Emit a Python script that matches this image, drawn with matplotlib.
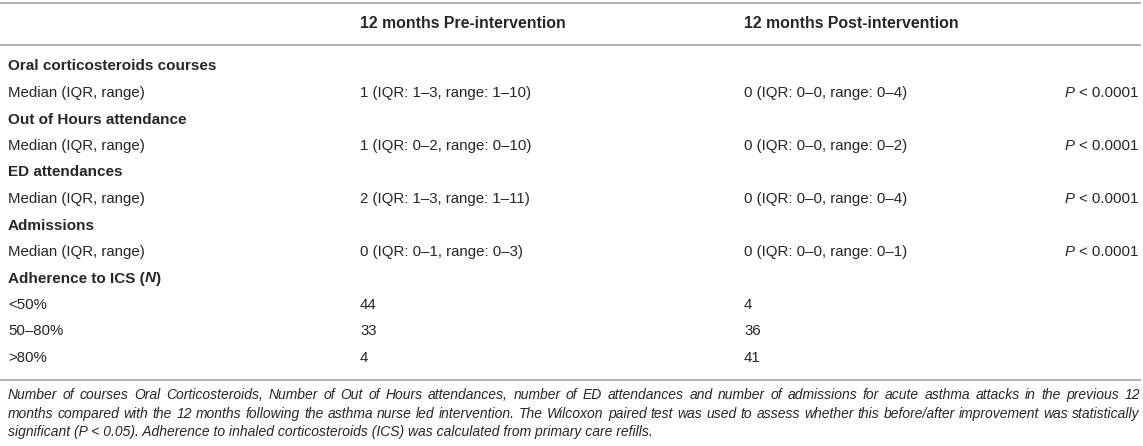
import matplotlib
matplotlib.use("Agg")
import matplotlib.pyplot as plt

plt.rcParams['font.family'] = ['Liberation Sans', 'DejaVu Sans']

W, H = 1143, 446
FS = 10.8
FS_HEAD = 11.4
FS_SEC = 11.0
TXT = '#262626'
RULE = '#b4b4b4'

col_headers = ["12 months Pre-intervention", "12 months Post-intervention"]

sections = ["Oral corticosteroids courses", "Out of Hours attendance",
            "ED attendances", "Admissions"]
pre_vals = ["1 (IQR: 1\u20133, range: 1\u201310)", "1 (IQR: 0\u20132, range: 0\u201310)",
            "2 (IQR: 1\u20133, range: 1\u201311)", "0 (IQR: 0\u20131, range: 0\u20133)"]
post_vals = ["0 (IQR: 0\u20130, range: 0\u20134)", "0 (IQR: 0\u20130, range: 0\u20132)",
             "0 (IQR: 0\u20130, range: 0\u20134)", "0 (IQR: 0\u20130, range: 0\u20131)"]
p_vals = ["< 0.0001", "< 0.0001", "< 0.0001", "< 0.0001"]

adh_labels = ["<50%", "50\u201380%", ">80%"]
adh_pre = [44, 33, 4]
adh_post = [4, 36, 41]

caption = [
    "Number of courses Oral Corticosteroids, Number of Out of Hours attendances, number of ED attendances and number of admissions for acute asthma attacks in the previous 12",
    "months compared with the 12 months following the asthma nurse led intervention. The Wilcoxon paired test was used to assess whether this before/after improvement was statistically",
    "significant (P < 0.05). Adherence to inhaled corticosteroids (ICS) was calculated from primary care refills.",
]

fig = plt.figure(figsize=(W / 100, H / 100), dpi=100)
ax = fig.add_axes([0, 0, 1, 1])
ax.set_xlim(0, W)
ax.set_ylim(H, 0)
ax.axis('off')
renderer = fig.canvas.get_renderer()


def width(s, fs=FS, **kw):
    t = ax.text(0, 0, s, fontsize=fs, **kw)
    w = t.get_window_extent(renderer).width
    t.remove()
    return w


def txt(x, y, s, fs=FS, **kw):
    # y is the visual middle of capitals; place on the baseline below it
    return ax.text(x, y + 0.36 * fs * 100 / 72, s, fontsize=fs, color=TXT,
                   va='baseline', **kw)


def put(x, y, parts, fs=FS):
    # draw text pieces one after the other, each with its own style
    for s, style, weight in parts:
        txt(x, y, s, fs, style=style, weight=weight)
        x += width(s, fs, style=style, weight=weight)


x_lab, x_pre, x_post, x_p = 8, 360, 744, 1138
y_head = 22
y0, dy = 65, 26.5

# rules
ax.hlines([3, 45, 380], 0, 1141, color=RULE, lw=1.5)

txt(x_pre, y_head, col_headers[0], FS_HEAD, weight='bold')
txt(x_post, y_head, col_headers[1], FS_HEAD, weight='bold')

row = 0
for sec, pr, po, pv in zip(sections, pre_vals, post_vals, p_vals):
    y = y0 + row * dy
    txt(x_lab, y, sec, FS_SEC, weight='bold')
    y = y0 + (row + 1) * dy
    txt(x_lab, y, "Median (IQR, range)")
    txt(x_pre, y, pr)
    txt(x_post, y, po)
    wp = width("P ", style='italic') + width(pv)
    put(x_p - wp, y, [("P ", 'italic', 'normal'), (pv, 'normal', 'normal')])
    row += 2

y = y0 + row * dy
put(x_lab, y, [("Adherence to ICS (", 'normal', 'bold'), ("N", 'italic', 'bold'),
               (")", 'normal', 'bold')], fs=FS_SEC)
row += 1
for lab, a, b in zip(adh_labels, adh_pre, adh_post):
    y = y0 + row * dy
    txt(x_lab, y, lab)
    txt(x_pre, y, str(a))
    txt(x_post, y, str(b))
    row += 1

# caption: size chosen so the longest line fits, then justified except the last line
cap_y0, cap_dy = 394, 18.5
right = 1140
natural = max(width(l, style='italic') for l in caption[:-1])
fs_cap = FS * (right - x_lab) / natural * 0.995
for i, line in enumerate(caption):
    y = cap_y0 + i * cap_dy
    words = line.split(' ')
    if i < len(caption) - 1:
        ws = [width(w, fs_cap, style='italic') for w in words]
        gap = (right - x_lab - sum(ws)) / (len(words) - 1)
        x = x_lab
        for w, wd in zip(words, ws):
            txt(x, y, w, fs_cap, style='italic')
            x += wd + gap
    else:
        txt(x_lab, y, line, fs_cap, style='italic')

fig.savefig("out.png", dpi=100)
